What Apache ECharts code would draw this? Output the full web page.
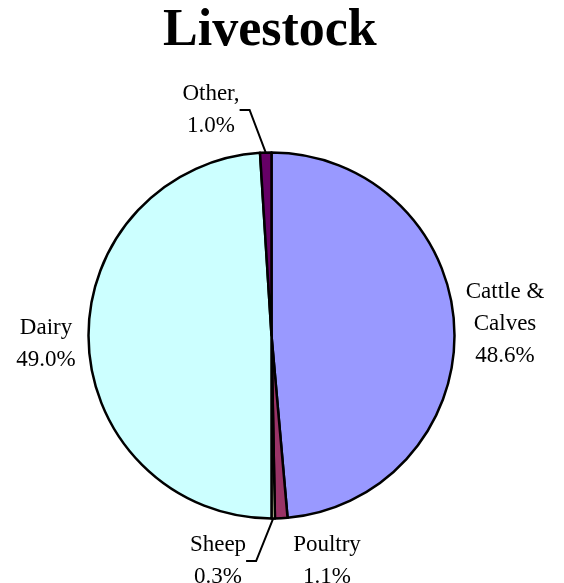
<!DOCTYPE html>
<html>
<head>
<meta charset="utf-8">
<script src="https://cdn.jsdelivr.net/npm/echarts@6/dist/echarts.min.js"></script>
<style>
    html, body { margin: 0; padding: 0; background: #fff; }
    #chart { width: 564px; height: 583px; }
</style>
</head>
<body>
<div id="chart"></div>
<script>
// slices, clockwise from 12 o'clock
const categories = ['Cattle & Calves', 'Poultry', 'Sheep', 'Dairy', 'Other'];
const shares = [48.6, 1.1, 0.3, 49.0, 1.0];
const labelNames = ['Cattle &\nCalves', 'Poultry', 'Sheep', 'Dairy', 'Other,'];
const colors = ['#9999FF', '#993366', '#FFFFCC', '#CCFFFF', '#660066'];
const withLeader = ['Sheep', 'Other'];

// where each label block sits (centre of block)
const labelPos = {
    'Cattle & Calves': [505, 324],
    'Poultry': [327, 561],
    'Sheep': [218, 561],
    'Dairy': [46, 344],
    'Other': [211, 110]
};

const chart = echarts.init(document.getElementById('chart'));

const pieData = categories.map((name, i) => ({
    name: name,
    value: shares[i],
    itemStyle: { color: colors[i] },
    labelLine: { show: withLeader.includes(name) }
}));

const option = {
    animation: false,
    title: {
        text: 'Livestock',
        left: 163,
        top: 6,
        padding: 0,
        textStyle: {
            fontFamily: 'Liberation Serif',
            fontWeight: 'bold',
            fontSize: 52,
            color: '#000'
        }
    },
    series: [
        {
            type: 'pie',
            center: [271.5, 335.5],
            radius: 183,
            startAngle: 90,
            clockwise: true,
            avoidLabelOverlap: false,
            itemStyle: {
                borderColor: '#000',
                borderWidth: 2.5
            },
            label: {
                show: true,
                position: 'outside',
                fontFamily: 'Liberation Serif',
                fontSize: 23,
                lineHeight: 32,
                color: '#000',
                align: 'center',
                formatter: p => labelNames[p.dataIndex] + '\n' + shares[p.dataIndex].toFixed(1) + '%'
            },
            labelLine: {
                length: 30,
                length2: 10,
                lineStyle: { color: '#000', width: 2 }
            },
            labelLayout: function (params) {
                const pos = labelPos[categories[params.dataIndex]];
                return {
                    x: pos[0],
                    y: pos[1],
                    align: 'center',
                    verticalAlign: 'middle',
                    hideOverlap: false
                };
            },
            emphasis: { disabled: true },
            data: pieData
        }
    ]
};
chart.setOption(option);
</script>
</body>
</html>
